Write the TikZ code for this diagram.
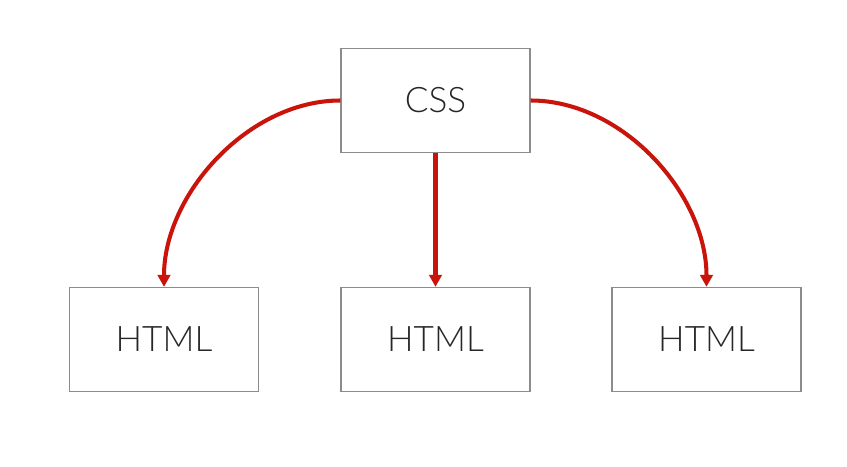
\documentclass[tikz,border=0pt]{standalone}
\usepackage{fontspec}
\setmainfont{Lato}[UprightFont=* Light]
\usepackage{xcolor}
\usetikzlibrary{arrows.meta}
\definecolor{linkred}{HTML}{C8140A}
\definecolor{frame}{HTML}{8C8C8C}

\begin{document}
\begin{tikzpicture}[page/.style={draw=frame,line width=0.7pt,minimum width=3.78cm,minimum height=2.08cm,inner sep=0pt,font=\fontsize{20}{24}\selectfont,text=black!85},
  link/.style={draw=linkred,line width=2.3pt,-{Triangle[length=2.4mm,width=2.5mm]}}]
  \useasboundingbox (0,0) rectangle (16.94,9.32);
  \node[page] (css) at (8.71,7.31) {CSS};
  \foreach \x/\n in {3.28/left,8.71/mid,14.13/right}{
     \node[page] (\n) at (\x,2.53) {HTML};}
  \draw[link] (css.west) to[out=180,in=90,looseness=0.92] (left.north);
  \draw[link] (css.south) -- (mid.north);
  \draw[link] (css.east) to[out=0,in=90,looseness=0.92] (right.north);
\end{tikzpicture}
\end{document}
